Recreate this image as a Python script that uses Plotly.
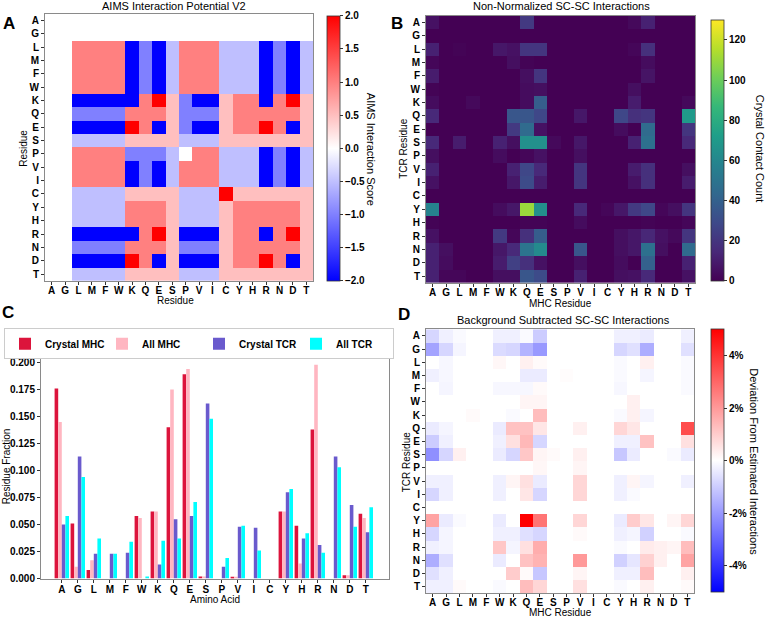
import plotly.graph_objects as go

W, H = 766, 621
N = None

residues = ['A','G','L','M','F','W','K','Q','E','S','P','V','I','C','Y','H','R','N','D','T']

# ---- Panel A: AIMS interaction potential (rows = residue, cols = residue)
hyd_row = [N,N, 1,1,1,1, -2,-1,-2,-0.5, 1,1,1, -0.5,-0.5,-0.5, -2,-1,-2,-0.5]
vi_row  = [N,N, 1,1,1,1, -2,-1,-2,-0.5, 1,1,1, -0.5,-0.5,-0.5, -2,-1,-2,-0.5]
aims = [
    [N]*20,
    [N]*20,
    hyd_row, hyd_row, hyd_row, hyd_row,
    [N,N, -2,-2,-2,-2, -2,1,2,0.5, -1,-2,-2, 0.5,1,1, -2,1,2,0.5],
    [N,N, -1,-1,-1,-1, 1,1,1,0.5, -1,-1,-1, 0.5,1,1, 1,1,1,0.5],
    [N,N, -2,-2,-2,-2, 2,1,-2,0.5, -1,-2,-2, 0.5,1,1, 2,1,-2,0.5],
    [N,N, -0.5,-0.5,-0.5,-0.5, 0.5,0.5,0.5,0.5, -0.5,-0.5,-0.5, 0.5,0.5,0.5, 0.5,0.5,0.5,0.5],
    [N,N, 1,1,1,1, -1,-1,-1,-0.5, 0,1,1, -0.5,-0.5,-0.5, -2,-1,-2,-0.5],
    vi_row, vi_row,
    [N,N, -0.5,-0.5,-0.5,-0.5, 0.5,0.5,0.5,0.5, -0.5,-0.5,-0.5, 2,0.5,0.5, 0.5,0.5,0.5,0.5],
    [N,N, -0.5,-0.5,-0.5,-0.5, 1,1,1,0.5, -0.5,-0.5,-0.5, 0.5,1,1, 1,1,1,0.5],
    [N,N, -0.5,-0.5,-0.5,-0.5, 1,1,1,0.5, -0.5,-0.5,-0.5, 0.5,1,1, 1,1,1,0.5],
    [N,N, -2,-2,-2,-2, -2,1,2,0.5, -2,-2,-2, 0.5,1,1, -2,1,2,0.5],
    [N,N, -1,-1,-1,-1, 1,1,1,0.5, -1,-1,-1, 0.5,1,1, 1,1,1,0.5],
    [N,N, -2,-2,-2,-2, 2,1,-2,0.5, -2,-2,-2, 0.5,1,1, 2,1,-2,0.5],
    [N,N, -0.5,-0.5,-0.5,-0.5, 0.5,0.5,0.5,0.5, -0.5,-0.5,-0.5, 0.5,0.5,0.5, 0.5,0.5,0.5,0.5],
]

# ---- Panel B: crystal contact counts (rows = TCR residue, cols = MHC residue)
counts = [
    [6,0,0,0,0,0,0,22,0,0,0,0,0,0,0,3,12,0,0,0],
    [0,0,0,0,0,0,0,0,0,0,0,0,0,0,0,0,0,0,0,0],
    [12,0,1,0,0,8,6,20,20,0,0,0,0,0,0,2,18,0,0,0],
    [2,0,0,0,0,0,5,1,0,0,0,0,0,0,0,0,4,0,0,0],
    [10,0,0,0,0,0,0,5,20,0,0,0,0,0,0,0,7,0,0,0],
    [1,0,0,0,0,0,0,4,5,0,0,0,0,0,0,5,0,0,0,0],
    [4,0,0,3,0,0,0,4,38,0,0,0,0,0,0,10,0,0,0,3],
    [15,0,0,0,0,0,35,35,28,0,0,8,0,0,28,18,20,0,0,70],
    [0,0,0,0,0,0,22,45,6,0,0,0,0,0,4,0,45,0,0,20],
    [15,0,10,0,0,12,5,65,65,3,0,8,0,0,0,12,48,0,0,15],
    [5,0,0,0,0,4,0,2,6,0,0,5,0,0,0,0,0,0,0,0],
    [12,0,0,0,0,0,12,28,15,0,0,20,0,0,0,10,18,0,0,5],
    [6,0,0,0,0,0,8,30,10,0,0,20,0,0,0,6,18,0,0,10],
    [0,0,0,0,0,0,0,0,0,0,0,0,0,0,0,0,0,0,0,0],
    [58,0,0,0,0,4,8,110,65,0,0,15,0,2,8,22,28,2,5,20],
    [1,0,0,0,0,0,0,1,1,0,0,4,0,0,0,0,1,0,0,2],
    [6,0,0,0,0,22,2,18,38,0,0,0,0,0,5,8,14,6,3,20],
    [12,5,0,0,0,8,15,50,62,0,0,35,0,0,5,8,48,5,0,45],
    [12,4,0,0,0,10,25,18,6,0,0,5,0,0,4,0,40,0,0,12],
    [12,2,2,0,0,5,5,35,30,0,0,12,0,0,5,6,15,0,0,6],
]

# ---- Panel C: residue fractions
crystal_mhc = [0.176,0.051,0.008,0,0,0.058,0.062,0.140,0.189,0.002,0,0.001,0,0,0.062,0.049,0.138,0,0.003,0.060]
all_mhc     = [0.145,0.011,0.017,0,0,0.056,0.062,0.175,0.194,0.002,0,0.001,0,0,0.062,0.014,0.198,0,0.003,0.056]
crystal_tcr = [0.050,0.113,0.023,0.023,0.024,0,0.013,0.055,0.058,0.162,0.011,0.048,0.047,0,0.080,0.037,0.031,0.113,0.068,0.043]
all_tcr     = [0.058,0.094,0.037,0.023,0.034,0.002,0.035,0.037,0.071,0.148,0.019,0.049,0.026,0,0.083,0.042,0.024,0.103,0.048,0.066]

# ---- Panel D: background subtracted deviation (%)
deviation = [
    [-0.8,-0.3,-0.1,0,0,-0.3,-0.3,-0.1,-1.0,0,0,0,0,0,-0.3,-0.3,-0.4,0,0,-0.3],
    [-1.8,-0.8,-0.2,0,0,-0.7,-0.8,-1.5,-2.0,0,0,0,0,0,-0.8,-0.6,-1.6,0,0,-0.6],
    [0,-0.15,0,0,0,0.15,0,0.3,0.1,0,0,0,0,0,-0.1,0,0.3,0,0,-0.1],
    [-0.3,-0.15,0,0,0,0,0,-0.4,-0.4,0,0.05,0,0,0,-0.1,0,-0.2,0,0,-0.1],
    [0,-0.2,0,0,0,-0.15,-0.15,-0.15,0.1,0,0,0,0,0,-0.15,0,0,0,0,-0.1],
    [0,0,0,0,0,0,0,0.2,0.2,0,0,0,0,0,0,0.3,0,0,0,0],
    [0,0,0,0.1,0,0,-0.1,0,1.3,0,0,0,0,0,-0.1,0.3,-0.2,0,0,0],
    [-0.4,-0.2,0,0,0,-0.4,1.2,1.2,0.5,0,0,0.3,0,0,0.8,0.5,0,0,0,3.5],
    [-1.0,-0.3,0,0,0,-0.3,0.6,1.4,-0.8,0,0,0,0,0,-0.3,-0.3,1.2,0,0,0.6],
    [-2.2,-0.8,0.3,0,0,-0.4,-0.8,1.1,0.2,0.1,0,0.3,0,0,-1.1,-0.4,0,0,-0.1,-0.4],
    [0,0,0,0,0,0,0,0,0.15,0,0,0.2,0,0,0,0,0,0,0,0],
    [-0.3,-0.3,0,0,0,-0.3,0.2,0.6,-0.4,0,0,0.8,0,0,-0.3,0.2,-0.2,0,0,-0.3],
    [-0.8,-0.3,0,0,0,-0.3,0,0.5,-0.8,0,0,0.8,0,0,-0.3,-0.1,0,0,0,0],
    [0,0,0,0,0,0,0,0,0,0,0,0,0,0,0,0,0,0,0,0],
    [1.8,-0.4,-0.1,0,0,-0.4,0,5.0,2.7,0,0,0.8,0,0,-0.4,1.0,0.5,0,0.2,0.8],
    [-0.8,-0.2,0,0,0,-0.3,-0.3,-0.6,-0.8,0,0,0.1,0,0,-0.3,-0.2,-0.9,0,0,-0.1],
    [-0.3,-0.2,0,0,0,1.1,-0.2,0.6,1.6,0,0,0,0,0,-0.1,0,0.4,0.3,0.2,1.3],
    [-1.6,-0.6,0,0,0,-0.4,0,1.2,1.5,0,0,2.0,0,0,-0.9,-0.5,0.9,0.3,0,1.8],
    [-0.6,-0.3,0,0,0,0,1.0,0.1,-1.1,0,0,0.2,0,0,-0.3,-0.3,1.3,0,0,0.3],
    [-0.3,-0.3,0.1,0,0,-0.1,0,1.3,0.8,0,0,0.6,0,0,-0.1,0,0.3,0,0,0.1],
]

FONT = "Liberation Sans"
bwr = [[0, "rgb(0,0,255)"], [0.5, "rgb(255,255,255)"], [1, "rgb(255,0,0)"]]
FRAME = "#8a8a8a"


def fx(p):
    return p / W


def fy(p):
    return 1 - p / H


def cbar(x0, y0, y1, **kw):
    d = dict(x=fx(x0), xanchor="left", xpad=0, ypad=0,
             y=fy((y0 + y1) / 2), yanchor="middle", len=(y1 - y0) / H,
             thickness=13, outlinewidth=0.8, outlinecolor="#333",
             ticks="outside", ticklen=3, tickwidth=1, tickcolor="#333",
             tickfont=dict(family=FONT, size=10, color="black", weight="bold"))
    d.update(kw)
    return d


fig = go.Figure()

fig.add_trace(go.Heatmap(
    z=aims, x=residues, y=residues, xaxis="x", yaxis="y",
    colorscale=bwr, zmin=-2, zmax=2, hoverongaps=False,
    colorbar=cbar(327, 16, 283, tickvals=[-2, -1.5, -1, -0.5, 0, 0.5, 1, 1.5, 2], tickformat=".1f"),
))

fig.add_trace(go.Heatmap(
    z=counts, x=residues, y=residues, xaxis="x2", yaxis="y2",
    colorscale="Viridis", zmin=0, zmax=130,
    colorbar=cbar(711, 20, 283, tickvals=[0, 20, 40, 60, 80, 100, 120]),
))

fig.add_trace(go.Heatmap(
    z=deviation, x=residues, y=residues, xaxis="x4", yaxis="y4",
    colorscale=bwr, zmin=-5, zmax=5,
    colorbar=cbar(711, 332, 597, tickvals=[4, 2, 0, -2, -4],
                  ticktext=["4%", "2%", "0%", "-2%", "-4%"]),
))

bar_series = [
    ("Crystal MHC", crystal_mhc, "#dc143c"),
    ("All MHC", all_mhc, "#ffb6c1"),
    ("Crystal TCR", crystal_tcr, "#6a5acd"),
    ("All TCR", all_tcr, "#00ffff"),
]
for name, vals, col in bar_series:
    fig.add_trace(go.Bar(x=residues, y=vals, name=name, marker_color=col,
                         marker_line_width=0, xaxis="x3", yaxis="y3"))

tickfont = dict(family=FONT, size=10, color="black", weight="bold")


def heat_axes(x0, x1, y0, y1):
    xa = dict(domain=[fx(x0), fx(x1)], tickfont=tickfont, ticks="outside", ticklen=3,
              tickcolor="#333", showline=True, mirror=True, linecolor=FRAME, linewidth=1,
              showgrid=False, zeroline=False, tickangle=0, type="category",
              ticklabelstandoff=-3)
    ya = dict(domain=[fy(y1), fy(y0)], tickfont=tickfont, ticks="outside", ticklen=3,
              tickcolor="#333", showline=True, mirror=True, linecolor=FRAME, linewidth=1,
              showgrid=False, zeroline=False, autorange="reversed", type="category")
    return xa, ya


xa1, ya1 = heat_axes(45, 313, 14, 283)
xa2, ya2 = heat_axes(426, 695, 16, 285)
xa4, ya4 = heat_axes(426, 694, 332, 598)
ya1["anchor"] = "x"; xa1["anchor"] = "y"
xa2["anchor"] = "y2"; ya2["anchor"] = "x2"
xa4["anchor"] = "y4"; ya4["anchor"] = "x4"

xa3 = dict(domain=[fx(41), fx(389)], anchor="y3", type="category", range=[-1.3, 20.45],
           tickfont=tickfont, ticks="outside", ticklen=3, tickcolor="#333",
           showline=True, mirror=True, linecolor=FRAME, linewidth=1, showgrid=False, tickangle=0,
           ticklabelstandoff=-2)
ya3 = dict(domain=[fy(583.3), fy(356.7)], anchor="x3", range=[0, 0.208],
           tickvals=[0, 0.025, 0.05, 0.075, 0.1, 0.125, 0.15, 0.175, 0.2], tickformat=".3f",
           tickfont=tickfont, ticks="outside", ticklen=3, tickcolor="#333",
           showline=True, mirror=True, linecolor=FRAME, linewidth=1, showgrid=False, zeroline=False)

annots = []


def txt(x, y, s, size=10, bold=False, angle=0):
    annots.append(dict(x=fx(x), y=fy(y), xref="paper", yref="paper", text=s, showarrow=False,
                       textangle=angle, xanchor="center", yanchor="middle",
                       font=dict(family=FONT, size=size, color="black",
                                 weight="bold" if bold else "normal")))


# panel titles
txt(174, 6, "AIMS Interaction Potential V2", 11)
txt(561, 6, "Non-Normalized SC-SC Interactions", 11)
txt(563, 323, "Background Subtracted SC-SC Interactions", 11)
# panel letters
txt(9, 24, "A", 17, True)
txt(397, 24, "B", 17, True)
txt(8, 315, "C", 17, True)
txt(404, 317, "D", 17, True)
# axis titles
txt(24, 149, "Residue", 10, angle=-90)
txt(175, 303, "Residue", 10)
txt(404, 150, "TCR Residue", 10, angle=-90)
txt(560, 306, "MHC Residue", 10)
txt(406, 466, "TCR Residue", 10, angle=-90)
txt(560, 617, "MHC Residue", 10)
txt(215, 604, "Amino Acid", 10)
txt(6, 470, "Residue Fraction", 10, angle=-90)
# colorbar titles
txt(371, 150, "AIMS Interaction Score", 11, angle=90)
txt(760, 150, "Crystal Contact Count", 11, angle=90)
txt(754, 465, "Deviation From Estimated Interactions", 11, angle=90)

fig.update_layout(
    width=W, height=H, margin=dict(l=0, r=0, t=0, b=0),
    paper_bgcolor="white", plot_bgcolor="white",
    font=dict(family=FONT, size=10, color="black"),
    xaxis=xa1, yaxis=ya1, xaxis2=xa2, yaxis2=ya2, xaxis3=xa3, yaxis3=ya3,
    xaxis4=xa4, yaxis4=ya4,
    barmode="group", bargap=0.1, bargroupgap=0,
    showlegend=True,
    legend=dict(orientation="h", x=fx(4), y=fy(331), xanchor="left", yanchor="top",
                bordercolor="#cccccc", borderwidth=1, bgcolor="white",
                entrywidth=52, entrywidthmode="pixels",
                font=dict(family=FONT, size=10, color="black", weight="bold")),
    annotations=annots,
)

fig.write_html("out.html", config={"displayModeBar": False},
               post_script="document.body.style.margin='0px';")
